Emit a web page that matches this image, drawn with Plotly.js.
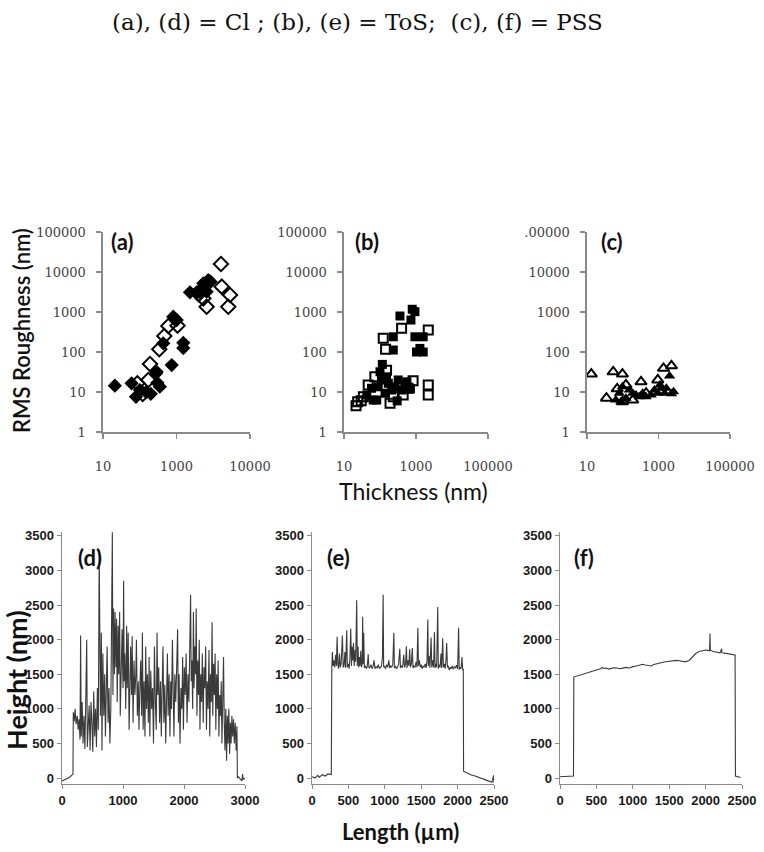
<!DOCTYPE html>
<html><head><meta charset="utf-8">
<script src="https://cdn.plot.ly/plotly-3.0.1.min.js"></script>
<style>html,body{margin:0;padding:0;background:#fff;} #chart{width:764px;height:852px;}</style>
</head><body><div id="chart"></div>
<script>
// ---------- DATA ----------
const chartTitle = "(a), (d) = Cl ; (b), (e) = ToS;\u00a0 (c), (f) = PSS";
const panelLabels = ["(a)", "(b)", "(c)", "(d)", "(e)", "(f)"];

// (a) Cl: RMS roughness vs thickness
const clFilledX = [21, 60, 79, 101, 276, 352, 302, 288, 741, 437, 818, 1012, 1531, 1531, 2328, 3540, 4844, 5370, 7330, 6600, 8500, 4380, 150, 200];
const clFilledY = [14.4, 16.5, 7.6, 11.2, 29, 13.6, 17, 32, 47, 165, 760, 631, 170, 125, 3100, 3100, 3900, 5200, 6300, 3230, 5700, 3050, 10, 9];
const clOpenX = [86, 120, 171, 190, 340, 466, 598, 1070, 5370, 6600, 16200, 17000, 28600, 25600, 4000];
const clOpenY = [16.5, 8.9, 20, 50, 117, 251, 447, 456, 2190, 1350, 15800, 4300, 2660, 1350, 2800];

// (b) ToS
const tosFilledX = [116, 358, 234, 234, 785, 933, 724, 933, 1283, 1585, 1585, 1030, 58, 65, 89, 110, 138, 170, 210, 260, 320, 398, 490, 43, 81, 152, 100, 300, 560, 700];
const tosFilledY = [49, 794, 240, 112, 1170, 1020, 630, 240, 123, 100, 240, 100, 12.4, 6.3, 13.5, 20, 9.3, 16.5, 11.2, 13.5, 20, 11.2, 15, 8.4, 6.3, 24, 32, 6, 18, 12];
const tosOpenX = [21.6, 24, 34.5, 123, 143, 398, 2190, 2190, 2190, 830, 190, 440, 234, 72, 47, 600, 152, 30];
const tosOpenY = [4.5, 5.7, 7.6, 220, 117, 390, 355, 15, 8.4, 19, 5.2, 8.4, 7.6, 24, 15, 12.4, 35, 6];

// (c) PSS
const pssOpenX = [13.2, 54, 98, 35, 98, 324, 955, 1380, 2300, 123, 450, 190, 70];
const pssOpenY = [28, 32, 28, 7, 5.7, 18, 20, 39, 45, 15, 9.3, 6.3, 12];
const pssFilledX = [2040, 2640, 1200, 955, 80, 64, 123, 190, 290, 450, 620, 770, 1480, 1650, 98, 152, 235, 360, 89, 1100, 2300];
const pssFilledY = [25, 10.2, 12.4, 9.3, 9.3, 6.3, 7, 9.3, 7.6, 7.6, 8.4, 11.2, 9.3, 12.4, 13.5, 11.2, 8.4, 9.3, 5.7, 15, 9];

const thickTickVals = [10, 1000, 100000];
const thickTickTextA = ["10", "1000", "10000"];
const thickTickTextBC = ["10", "1000", "100000"];
const rmsTickVals = [1, 10, 100, 1000, 10000, 100000];
const rmsTickText = ["1", "10", "100", "1000", "10000", "100000"];
const rmsTickTextC = ["1", "10", "100", "1000", "10000", ".00000"];
const heightTickVals = [0, 500, 1000, 1500, 2000, 2500, 3000, 3500];
const lengthTickValsD = [0, 1000, 2000, 3000];
const lengthTickValsEF = [0, 500, 1000, 1500, 2000, 2500];

// (d) Cl profile
const dLen = [0,60,120,170,180,185,200,215,230,250,265,280,295,305,315,330,345,360,375,390,405,415,430,445,460,475,490,505,520,535,550,565,580,595,610,620,630,645,655,670,685,700,712,725,740,755,770,785,800,815,825,835,845,860,870,885,895,905,920,930,945,955,970,985,1000,1010,1020,1030,1045,1060,1070,1085,1100,1112,1125,1140,1150,1165,1180,1195,1210,1220,1235,1250,1262,1275,1290,1305,1318,1330,1345,1360,1372,1385,1400,1415,1428,1440,1455,1470,1485,1500,1515,1530,1545,1558,1570,1585,1600,1615,1628,1640,1655,1670,1685,1700,1715,1728,1740,1755,1770,1783,1795,1810,1822,1835,1850,1865,1880,1895,1908,1920,1935,1950,1965,1978,1990,2005,2020,2035,2050,2065,2080,2095,2108,2118,2130,2142,2155,2165,2178,2190,2200,2212,2225,2238,2250,2262,2275,2288,2300,2315,2328,2340,2355,2368,2380,2395,2410,2422,2435,2448,2460,2472,2485,2498,2510,2522,2535,2548,2560,2572,2585,2598,2610,2622,2635,2648,2660,2672,2685,2698,2710,2722,2735,2748,2760,2772,2785,2798,2812,2825,2840,2855,2868,2875,2890,2920,2950,2960,2970,3000];
const dHeight = [-40,-20,10,50,60,950,820,1000,780,900,700,850,560,2060,600,1100,500,900,420,1150,2000,450,950,1050,400,1100,800,380,1250,600,1000,450,1300,700,3300,1700,900,2100,400,1800,900,1500,600,1200,1900,800,1300,500,1000,2500,3550,1200,2450,1500,2400,1600,2300,1100,2200,1500,2400,900,1700,2150,1300,2850,1400,1800,1000,2200,1300,2100,700,1600,1900,1200,2050,800,1700,1200,1500,2000,900,1400,700,1250,1700,900,2100,700,1400,600,1900,1000,1500,800,1750,600,1550,1000,1300,500,1900,1100,700,2100,1200,1600,800,1400,600,1200,1900,800,1350,500,1200,1800,900,1500,600,1400,1000,2000,1300,600,1500,1100,1600,2150,800,1500,500,1300,1000,1750,700,1600,1200,1800,800,1500,1100,1900,2650,1400,1700,1000,2400,1300,1900,1500,2450,900,1700,1200,2000,700,1500,1100,1800,800,1600,1300,1900,700,1400,1000,1850,600,1500,1100,2250,900,1650,1200,1800,700,1500,1000,1700,600,1200,900,1400,500,1100,1750,800,400,1000,250,900,500,1000,350,800,500,900,600,850,500,800,400,750,0,20,-10,-40,60,-20,0];

// (e) ToS profile
const eLen = [0,40,80,100,140,180,220,265,272,280,290,300,312,325,335,345,355,365,378,388,400,418,428,440,452,462,477,486,498,510,520,532,542,550,560,570,580,592,600,614,622,632,642,650,660,670,680,690,696,702,710,720,735,750,760,772,782,795,810,825,840,852,865,880,895,910,925,940,955,968,977,984,995,1010,1025,1040,1055,1068,1080,1095,1110,1124,1132,1145,1160,1175,1190,1206,1215,1230,1245,1260,1272,1285,1297,1305,1318,1330,1342,1352,1365,1378,1388,1400,1415,1430,1442,1454,1462,1475,1488,1500,1512,1525,1540,1555,1568,1580,1591,1598,1610,1620,1636,1645,1658,1670,1682,1690,1700,1712,1727,1735,1748,1760,1772,1782,1795,1805,1818,1830,1840,1850,1860,1872,1885,1898,1910,1925,1940,1955,1970,1985,2000,2014,2022,2035,2048,2060,2070,2078,2082,2120,2180,2240,2300,2360,2420,2470,2495,2500];
const eHeight = [20,0,40,10,50,30,60,50,1600,1820,1620,1700,1600,1780,1620,2040,1640,1580,1800,1600,1650,2060,1600,1620,1820,1590,2135,1600,1650,1580,1720,2160,1620,1900,1700,1950,1620,1850,1680,2570,1620,1900,1600,1750,1620,1840,1600,1650,2330,1650,2100,1590,1620,1580,1620,1790,1590,1600,1640,1580,1620,1700,1580,1610,1590,1640,1580,1600,1620,1750,2650,1600,1620,1580,1640,1600,1700,1590,1620,1600,1650,2100,1590,1620,1580,1600,1650,1870,1590,1620,1600,1780,1600,1650,1905,1590,1700,1620,1860,1600,1650,1880,1590,1620,1600,1680,1600,2170,1620,1700,1600,1640,1580,1620,1600,1650,1590,1700,2290,1620,1760,1590,2030,1600,1700,1600,2107,1590,1650,1600,2470,1580,1640,1600,1800,1590,2020,1600,1650,1580,1700,1950,1600,1620,1560,1600,1580,1620,1570,1610,1590,1630,1580,2170,1570,1600,1580,1750,1560,1580,100,80,50,30,10,-20,-40,-60,40,-70];

// (f) PSS profile
const fLen = [0,60,120,185,190,220,250,300,340,364,400,450,480,520,560,580,600,637,670,700,740,780,820,850,900,955,1000,1050,1100,1137,1170,1200,1250,1290,1319,1360,1400,1450,1500,1550,1600,1640,1682,1720,1773,1820,1864,1910,1955,2000,2030,2055,2060,2065,2100,2150,2200,2220,2225,2260,2300,2340,2380,2405,2410,2440,2480];
const fHeight = [20,20,25,30,1460,1470,1480,1500,1510,1525,1540,1550,1565,1570,1580,1600,1585,1590,1575,1580,1595,1590,1580,1585,1600,1590,1610,1620,1630,1645,1635,1630,1620,1640,1650,1660,1670,1680,1690,1695,1700,1695,1690,1680,1700,1760,1800,1830,1840,1850,1845,1840,2090,1850,1830,1820,1810,1870,1810,1805,1800,1795,1790,1780,30,20,10];

// ---------- STYLE / LAYOUT ----------
const axisGray = '#8a8a8a';
const tickFontTop = {family: 'DejaVu Serif, Liberation Serif, serif', size: 13, color: '#444'};
const tickFontBot = {family: 'Liberation Sans, Arial, sans-serif', size: 13, color: '#1a1a1a', weight: 700};
const W = 764, H = 852;
const px = (a, b) => [a / W, b / W];
const py = (top, bottom) => [1 - bottom / H, 1 - top / H];
const boldText = vals => vals.map(v => '<b>' + v + '</b>');

function topX(dom, ttext, yref) {
  return {domain: dom, type: 'log', range: [1, 5], tickvals: thickTickVals, ticktext: ttext, tickangle: 0,
    ticks: 'outside', ticklen: 5, tickwidth: 1.2, tickcolor: axisGray, showline: true, linecolor: axisGray, linewidth: 1.6,
    showgrid: false, zeroline: false, tickfont: tickFontTop, ticklabelstandoff: 17, anchor: yref, fixedrange: true};
}
function topY(ttext, xref) {
  return {domain: py(232, 432), type: 'log', range: [0, 5], tickvals: rmsTickVals, ticktext: ttext,
    ticks: 'outside', ticklen: 5, tickwidth: 1.2, tickcolor: axisGray, showline: true, linecolor: axisGray, linewidth: 1.6,
    showgrid: false, zeroline: false, tickfont: tickFontTop, ticklabelstandoff: 8, anchor: xref, fixedrange: true};
}
function botX(dom, maxv, tv, yref) {
  return {domain: dom, range: [0, maxv], tickvals: tv, ticktext: boldText(tv), tickangle: 0,
    ticks: 'outside', ticklen: 4, tickwidth: 1, tickcolor: axisGray, showline: true, linecolor: axisGray, linewidth: 1.4,
    showgrid: false, zeroline: false, tickfont: tickFontBot, ticklabelstandoff: 0, anchor: yref, fixedrange: true};
}
function botY(xref) {
  return {domain: py(532, 784), range: [-85, 3555], tickvals: heightTickVals, ticktext: boldText(heightTickVals),
    ticks: 'outside', ticklen: 4, tickwidth: 1, tickcolor: axisGray, showline: true, linecolor: axisGray, linewidth: 1.4,
    showgrid: false, zeroline: false, tickfont: tickFontBot, ticklabelstandoff: 0, anchor: xref, fixedrange: true};
}

function mk(x, y, sym, size, xa, ya, lw) {
  return {x: x, y: y, type: 'scatter', mode: 'markers', xaxis: xa, yaxis: ya, hoverinfo: 'skip',
    marker: {symbol: sym, size: size, color: '#000', line: {color: '#000', width: lw}}};
}
function ln(x, y, xa, ya) {
  return {x: x, y: y, type: 'scatter', mode: 'lines', xaxis: xa, yaxis: ya, hoverinfo: 'skip',
    line: {color: '#3a3a3a', width: 1.1}};
}

const traces = [
  mk(clOpenX, clOpenY, 'diamond-open', 11, 'x', 'y', 2),
  mk(clFilledX, clFilledY, 'diamond', 11, 'x', 'y', 0),
  mk(tosOpenX, tosOpenY, 'square-open', 9, 'x2', 'y2', 2),
  mk(tosFilledX, tosFilledY, 'square', 9, 'x2', 'y2', 0),
  mk(pssOpenX, pssOpenY, 'triangle-up-open', 10, 'x3', 'y3', 2),
  mk(pssFilledX, pssFilledY, 'triangle-up', 10, 'x3', 'y3', 0),
  ln(dLen, dHeight, 'x4', 'y4'),
  ln(eLen, eHeight, 'x5', 'y5'),
  ln(fLen, fHeight, 'x6', 'y6')
];

const labelFont = {family: 'Lato, Open Sans, sans-serif', size: 22, color: '#111', weight: 'bold'};
function panelAnn(text, x, y) {
  return {text: text, x: x / W, y: 1 - y / H, xref: 'paper', yref: 'paper', showarrow: false,
    xanchor: 'center', yanchor: 'middle', font: labelFont};
}

const layout = {
  width: W, height: H, margin: {l: 0, r: 0, t: 0, b: 0}, showlegend: false,
  paper_bgcolor: '#fff', plot_bgcolor: 'rgba(0,0,0,0)',
  xaxis: topX(px(103, 250), thickTickTextA, 'y'),
  yaxis: topY(rmsTickText, 'x'),
  xaxis2: topX(px(344, 488), thickTickTextBC, 'y2'),
  yaxis2: topY(rmsTickText, 'x2'),
  xaxis3: topX(px(587, 730), thickTickTextBC, 'y3'),
  yaxis3: topY(rmsTickTextC, 'x3'),
  xaxis4: botX(px(62, 245), 3000, lengthTickValsD, 'y4'),
  yaxis4: botY('x4'),
  xaxis5: botX(px(312, 494), 2500, lengthTickValsEF, 'y5'),
  yaxis5: botY('x5'),
  xaxis6: botX(px(560, 742), 2500, lengthTickValsEF, 'y6'),
  yaxis6: botY('x6'),
  annotations: [
    {text: chartTitle, x: 357 / W, y: 1 - 22 / H, xref: 'paper', yref: 'paper', showarrow: false,
      xanchor: 'center', yanchor: 'middle', font: {family: 'DejaVu Serif, Liberation Serif, serif', size: 23, color: '#111'}},
    panelAnn(panelLabels[0], 122, 241),
    panelAnn(panelLabels[1], 367, 241),
    panelAnn(panelLabels[2], 612, 241),
    panelAnn(panelLabels[3], 90, 557),
    panelAnn(panelLabels[4], 338, 557),
    panelAnn(panelLabels[5], 584, 557),
    {text: 'RMS Roughness (nm)', x: 21 / W, y: 1 - 331 / H, xref: 'paper', yref: 'paper', showarrow: false,
      textangle: -90, xanchor: 'center', yanchor: 'middle', font: {family: 'Lato, Open Sans, sans-serif', size: 22, color: '#111', weight: 600}},
    {text: 'Thickness (nm)', x: 413 / W, y: 1 - 491 / H, xref: 'paper', yref: 'paper', showarrow: false,
      xanchor: 'center', yanchor: 'middle', font: {family: 'Lato, Open Sans, sans-serif', size: 23, color: '#111'}},
    {text: 'Height (nm)', x: 16 / W, y: 1 - 680 / H, xref: 'paper', yref: 'paper', showarrow: false,
      textangle: -90, xanchor: 'center', yanchor: 'middle', font: {family: 'Lato, Open Sans, sans-serif', size: 27, color: '#111', weight: 'bold'}},
    {text: 'Length (µm)', x: 400 / W, y: 1 - 831 / H, xref: 'paper', yref: 'paper', showarrow: false,
      xanchor: 'center', yanchor: 'middle', font: {family: 'Lato, Open Sans, sans-serif', size: 22, color: '#111', weight: 'bold'}}
  ]
};

Plotly.newPlot('chart', traces, layout, {displayModeBar: false, staticPlot: true});
</script></body></html>
